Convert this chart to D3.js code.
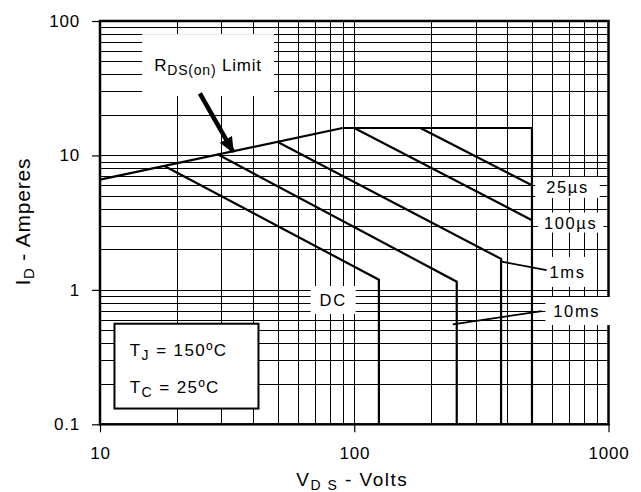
<!DOCTYPE html>
<html>
<head>
<meta charset="utf-8">
<script src="https://cdn.jsdelivr.net/npm/d3@7"></script>
<style>
body { margin: 0; background: #fff; }
text { font-family: "Liberation Sans", Arial, sans-serif; fill: #000; }
</style>
</head>
<body>
<div id="vis"></div>
<script>
/*************************** data ************************************/
var xDomain = [10, 1000];
var yDomain = [0.1, 100];
var xTicks = [10, 100, 1000];
var yTicks = [0.1, 1, 10, 100];
var xTickLabels = ["10", "100", "1000"];
var yTickLabels = ["0.1", "1", "10", "100"];

// SOA curves as [V_DS, I_D]
var rdsLimit = [[10, 6.6], [90, 16]];
var envelope = [[90, 16], [500, 16], [500, 0.1]];
var pulse25us = [[182, 16], [500, 6.0]];
var pulse100us = [[100, 16], [500, 3.3]];
var pulse1ms = [[50, 12.6], [378, 1.7], [378, 0.1]];
var pulse10ms = [[29, 10.2], [253, 1.15], [253, 0.1]];
var dcCurve = [[18, 8.3], [125, 1.19], [125, 0.1]];
var curves = [rdsLimit, envelope, pulse25us, pulse100us, pulse1ms, pulse10ms, dcCurve];

// curve labels, anchored at [V, A]
var curveLabels = [
    {name: "25µs", at: [690, 5.78], pad: [11, 11, 1.5, 1.5]},
    {name: "100µs", at: [710, 3.16], pad: [6, 6, 1, 1]},
    {name: "1ms", at: [690, 1.36], pad: [9, 9, 6, 6]},
    {name: "10ms", at: [750, 0.695], pad: [8, 12, 5, 5]},
    {name: "DC", at: [82.6, 0.84], pad: [9, 9, 5, 5]}
];
var leaders = [
    [[380, 1.62], [571, 1.40]],
    [[547, 0.695], [244, 0.553]]
];
var arrow = [[24.7, 28.9], [33.3, 10.7]];
var rdsLabelAt = [26.6, 42.4];
var noteBox = [[11.4, 0.56], [42, 0.131]];
var notes = [
    {main: "T", sub: "J", rest: " = 150ºC", at: [13.1, 0.321]},
    {main: "T", sub: "C", rest: " = 25ºC", at: [13.1, 0.171]}
];

/*************************** chart ************************************/
var width = 641, height = 492;
var margin = {top: 21, right: 32.5, bottom: 67.7, left: 100};

var svg = d3.select("div#vis").append("svg")
    .attr("width", width)
    .attr("height", height);

var x = d3.scaleLog().domain(xDomain).range([margin.left, width - margin.right]);
var y = d3.scaleLog().domain(yDomain).range([height - margin.bottom, margin.top]);

// minor + major log grid
var gridX = [], gridY = [];
[10, 100].forEach(function(d) { for (var k = 1; k < 10; k++) gridX.push(d * k); });
[0.1, 1, 10].forEach(function(d) { for (var k = 1; k < 10; k++) gridY.push(d * k); });

var grid = svg.append("g").attr("class", "grid")
    .attr("stroke", "#000").attr("stroke-width", 1);
grid.selectAll("line.vx").data(gridX).enter().append("line")
    .attr("x1", function(d) { return Math.round(x(d)) + 0.5; })
    .attr("x2", function(d) { return Math.round(x(d)) + 0.5; })
    .attr("y1", y.range()[1]).attr("y2", y.range()[0]);
grid.selectAll("line.hy").data(gridY).enter().append("line")
    .attr("y1", function(d) { return Math.round(y(d)) + 0.5; })
    .attr("y2", function(d) { return Math.round(y(d)) + 0.5; })
    .attr("x1", x.range()[0]).attr("x2", x.range()[1]);

// axes
var xAxis = svg.append("g")
    .attr("transform", "translate(0," + y.range()[0] + ")")
    .call(d3.axisBottom(x).tickValues(xTicks).tickSize(8).tickPadding(15)
        .tickFormat(function(d, i) { return xTickLabels[i]; }));
var yAxis = svg.append("g")
    .attr("transform", "translate(" + x.range()[0] + ",0)")
    .call(d3.axisLeft(y).tickValues(yTicks).tickSize(8).tickPadding(12)
        .tickFormat(function(d, i) { return yTickLabels[i]; }));
[xAxis, yAxis].forEach(function(a) {
    a.select(".domain").remove();
    a.selectAll("line").attr("stroke", "#000").attr("stroke-width", 1.2);
    a.selectAll("text").attr("font-size", 17).attr("letter-spacing", 0.8)
        .attr("font-family", "Liberation Sans, Arial, sans-serif");
});

// plot frame
svg.append("rect")
    .attr("x", x.range()[0]).attr("y", y.range()[1])
    .attr("width", x.range()[1] - x.range()[0])
    .attr("height", y.range()[0] - y.range()[1])
    .attr("fill", "none").attr("stroke", "#000").attr("stroke-width", 2.5);

// curve labels on white backgrounds
var labelG = svg.append("g").selectAll("g.curve-label")
    .data(curveLabels)
  .enter().append("g")
    .attr("class", "curve-label");
labelG.append("rect").attr("fill", "#fff");
labelG.append("text")
    .attr("x", function(d) { return x(d.at[0]); })
    .attr("y", function(d) { return y(d.at[1]); })
    .attr("dy", "0.36em")
    .attr("text-anchor", "middle")
    .attr("font-size", 16.5)
    .attr("letter-spacing", 1.6)
    .text(function(d) { return d.name; });
labelG.each(function(d) {
    var b = d3.select(this).select("text").node().getBBox();
    d3.select(this).select("rect")
        .attr("x", b.x - d.pad[0]).attr("y", b.y - d.pad[2])
        .attr("width", b.width + d.pad[0] + d.pad[1])
        .attr("height", b.height + d.pad[2] + d.pad[3]);
});

// R_DS(on) label
var rdsG = svg.append("g");
var rdsBg = rdsG.append("rect").attr("fill", "#fff");
var rdsText = rdsG.append("text")
    .attr("x", x(rdsLabelAt[0])).attr("y", y(rdsLabelAt[1]))
    .attr("text-anchor", "middle").attr("font-size", 17)
    .attr("letter-spacing", 0.8);
rdsText.append("tspan").text("R");
rdsText.append("tspan").attr("font-size", 14).attr("dy", 4).text("DS(on)");
rdsText.append("tspan").attr("dy", -4).text(" Limit");
var rb = rdsText.node().getBBox();
rdsBg.attr("x", rb.x - 12).attr("y", rb.y - 22)
    .attr("width", rb.width + 24).attr("height", rb.height + 40);

// curves
var line = d3.line()
    .x(function(d) { return x(d[0]); })
    .y(function(d) { return y(d[1]); });
svg.append("g").selectAll("path.soa")
    .data(curves)
  .enter().append("path")
    .attr("class", "soa")
    .attr("d", line)
    .attr("fill", "none")
    .attr("stroke", "#000")
    .attr("stroke-width", 2.2)
    .attr("stroke-linejoin", "miter");

// leader lines
svg.append("g").selectAll("path.leader")
    .data(leaders)
  .enter().append("path")
    .attr("class", "leader")
    .attr("d", line)
    .attr("stroke", "#000")
    .attr("stroke-width", 1.8);

// arrow to R_DS(on) line
svg.append("defs").append("marker")
    .attr("id", "head")
    .attr("markerUnits", "userSpaceOnUse")
    .attr("viewBox", "0 0 16 14")
    .attr("refX", 14).attr("refY", 7)
    .attr("markerWidth", 16).attr("markerHeight", 14)
    .attr("orient", "auto")
  .append("path")
    .attr("d", "M0,0 L16,7 L0,14 Z")
    .attr("fill", "#000");
svg.append("line")
    .attr("x1", x(arrow[0][0])).attr("y1", y(arrow[0][1]))
    .attr("x2", x(arrow[1][0])).attr("y2", y(arrow[1][1]))
    .attr("stroke", "#000").attr("stroke-width", 4.5)
    .attr("marker-end", "url(#head)");

// temperature note box
svg.append("rect")
    .attr("x", x(noteBox[0][0])).attr("y", y(noteBox[0][1]))
    .attr("width", x(noteBox[1][0]) - x(noteBox[0][0]))
    .attr("height", y(noteBox[1][1]) - y(noteBox[0][1]))
    .attr("fill", "#fff").attr("stroke", "#000").attr("stroke-width", 2);
notes.forEach(function(n) {
    var t = svg.append("text")
        .attr("x", x(n.at[0])).attr("y", y(n.at[1]))
        .attr("font-size", 17).attr("letter-spacing", 1.4);
    t.append("tspan").text(n.main);
    t.append("tspan").attr("font-size", 14).attr("dy", 4).text(n.sub);
    t.append("tspan").attr("dy", -4).text(n.rest);
});

// axis titles
var xt = svg.append("text")
    .attr("x", (x.range()[0] + x.range()[1]) / 2 - 2)
    .attr("y", 486)
    .attr("text-anchor", "middle")
    .attr("font-size", 19)
    .attr("letter-spacing", 1.5);
xt.append("tspan").text("V");
xt.append("tspan").attr("font-size", 14).attr("dy", 4).text("D S");
xt.append("tspan").attr("dy", -4).text(" - Volts");

var yt = svg.append("text")
    .attr("transform", "translate(30," + ((y.range()[0] + y.range()[1]) / 2 - 1) + ") rotate(-90)")
    .attr("text-anchor", "middle")
    .attr("font-size", 21)
    .attr("letter-spacing", 0.8);
yt.append("tspan").text("I");
yt.append("tspan").attr("font-size", 15).attr("dy", 4).text("D");
yt.append("tspan").attr("dy", -4).text(" - Amperes");
</script>
</body>
</html>
